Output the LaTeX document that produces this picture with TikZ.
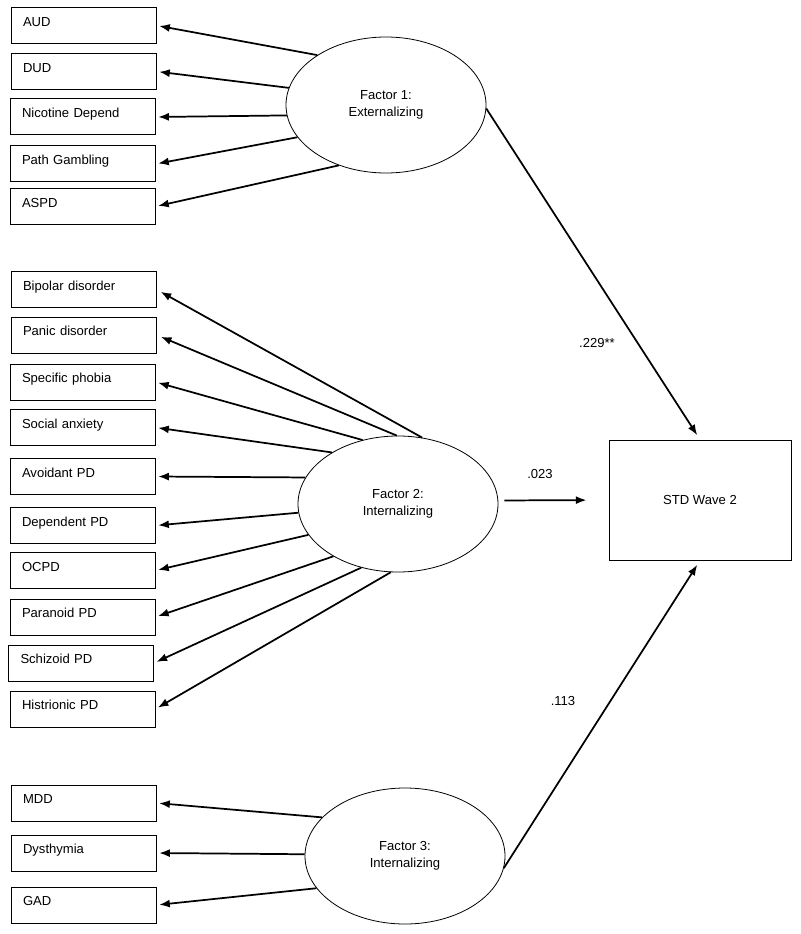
\documentclass[tikz,border=0pt]{standalone}
\usepackage{fontspec}
\setmainfont{Liberation Sans}
\usetikzlibrary{shapes.geometric,arrows.meta}
\begin{document}
\begin{tikzpicture}[x=.75pt,y=-.75pt,>={Latex[length=8pt,width=6pt]},
	font=\fontsize{9.8}{12.75}\selectfont,
	ind/.style={draw,line width=.75pt,anchor=west,text width=90.75pt,inner xsep=9pt,inner ysep=0pt,text height=14pt,text depth=13pt,align=left},
	fac/.style={ellipse,draw,line width=.6pt,minimum width=150pt,minimum height=102pt,align=center,inner sep=0pt},
	load/.style={->,line width=1.3pt,shorten >=2pt}]
	\useasboundingbox (0,0) rectangle (800,934);
	% indicators
	\node[ind] (aud) at (10.5,25.5) {AUD};
	\node[ind] (dud) at (10.5,71.5) {DUD};
	\node[ind] (nic) at (9.5,117) {Nicotine Depend};
	\node[ind] (gam) at (9.5,164) {Path Gambling};
	\node[ind] (aspd) at (9.5,206.5) {ASPD};
	\node[ind] (bip) at (10.5,289.5) {Bipolar disorder};
	\node[ind] (pan) at (10.5,335) {Panic disorder};
	\node[ind] (pho) at (9.5,382) {Specific phobia};
	\node[ind] (soc) at (9.5,427.5) {Social anxiety};
	\node[ind] (avo) at (9.5,476.5) {Avoidant PD};
	\node[ind] (dep) at (9.5,525.5) {Dependent PD};
	\node[ind] (ocpd) at (9.5,570.5) {OCPD};
	\node[ind] (par) at (9.5,617) {Paranoid PD};
	\node[ind] (sch) at (8,663) {Schizoid PD};
	\node[ind] (his) at (9.5,709) {Histrionic PD};
	\node[ind] (mdd) at (10.5,803) {MDD};
	\node[ind] (dys) at (10.5,853) {Dysthymia};
	\node[ind] (gad) at (10.5,905) {GAD};
	% factors
	\node[fac] (f1) at (386,105) {Factor 1:\\Externalizing};
	\node[fac] (f2) at (398,504) {Factor 2:\\Internalizing};
	\node[fac] (f3) at (405,856) {Factor 3:\\Internalizing};
	\node[draw,line width=.75pt,minimum width=136.5pt,minimum height=90pt] (std) at (700,500) {STD Wave 2};
	% loadings
	\draw[load] (f1.144) -- (aud.east);
	\draw[load] (f1.170) -- (dud.east);
	\draw[load] (f1.186) -- (nic.east);
	\draw[load] (f1.200) -- (gam.east);
	\draw[load] (f1.232) -- (aspd.east);
	\draw[load,shorten >=3.5pt] (f2.70) -- (bip.east);
	\draw[load,shorten >=3.5pt] (f2.91) -- (pan.east);
	\draw[load] (f2.119) -- (pho.east);
	\draw[load] (f2.142) -- (soc.east);
	\draw[load] (f2.164) -- (avo.east);
	\draw[load] (f2.185) -- (dep.east);
	\draw[load] (f2.199) -- (ocpd.east);
	\draw[load] (f2.219) -- (par.east);
	\draw[load] (f2.240) -- (sch.east);
	\draw[load] (f2.264) -- (his.east);
	\draw[load] (f3.155) -- (mdd.east);
	\draw[load] (f3.179) -- (dys.east);
	\draw[load] (f3.200) -- (gad.east);
	% paths to outcome
	\draw[load,shorten >=3.75pt] (f1.-2) -- (std.north);
	\draw[load,shorten <=4.5pt,shorten >=16.5pt] (f2.2) -- (std.west);
	\draw[load,shorten >=3.75pt] (f3.-7) -- (std.south);
	\node (b1) at (597,343) {.229**};
	\node (b2) at (540,474) {.023};
	\node (b3) at (563,701) {.113};
\end{tikzpicture}
\end{document}
